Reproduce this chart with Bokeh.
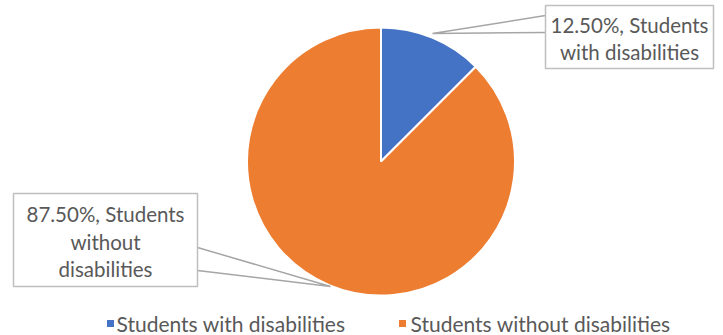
import math
from bokeh.plotting import figure
from bokeh.models import Range1d
from bokeh.core.properties import value
from bokeh.embed import file_html
from bokeh.resources import INLINE

categories = ["Students with disabilities", "Students without disabilities"]
shares = [12.5, 87.5]
colors = ["#4472C4", "#ED7D31"]
label_lines = [["12.50%, Students", "with disabilities"],
               ["87.50%, Students", "without", "disabilities"]]

W, H = 723, 335
FONT = "Lato"
TXT = "#595959"

def Y(y):
    return 335 - y

p = figure(width=W, height=H, x_range=Range1d(0, 723), y_range=Range1d(0, 335),
           x_axis_location=None, y_axis_location=None, toolbar_location=None,
           output_backend="svg", min_border=0, outline_line_color=None)
p.grid.visible = False

cx, cy, r = 380.5, Y(161), 134
total = sum(shares)
start = math.pi / 2
starts, ends = [], []
for s in shares:
    a = 2 * math.pi * s / total
    starts.append(start)
    ends.append(start - a)
    start -= a
p.wedge(x=[cx] * len(shares), y=[cy] * len(shares), radius=r,
        start_angle=starts, end_angle=ends, direction="clock",
        fill_color=colors, line_color="white", line_width=2)

# callout 1
p.line(x=[545, 432, 545], y=[Y(15), Y(33), Y(32)], line_color="#A6A6A6", line_width=1.5)
p.quad(left=[545], right=[713], top=[Y(5)], bottom=[Y(68)], fill_color="white",
       line_color="#BFBFBF", line_width=1.5)
for t, yy in zip(label_lines[0], [24, 51]):
    p.text(x=[629], y=[Y(yy)], text=[t], text_align="center", text_baseline="middle",
           text_font=value(FONT), text_font_size="20.5px", text_color=TXT)

# callout 2
p.line(x=[197, 330, 197], y=[Y(247), Y(286), Y(270)], line_color="#A6A6A6", line_width=1.5)
p.quad(left=[13], right=[197], top=[Y(193)], bottom=[Y(286)], fill_color="white",
       line_color="#BFBFBF", line_width=1.5)
for t, yy in zip(label_lines[1], [213, 241, 268]):
    p.text(x=[105], y=[Y(yy)], text=[t], text_align="center", text_baseline="middle",
           text_font=value(FONT), text_font_size="20.5px", text_color=TXT)

# legend
leg_sq_x = [110, 402]
leg_tx_x = [116, 410]
p.scatter(x=leg_sq_x, y=[Y(323)] * 2, marker="square", size=7, fill_color=colors, line_color=None)
p.text(x=leg_tx_x, y=[Y(323)] * 2, text=categories, text_align="left", text_baseline="middle",
       text_font=value(FONT), text_font_size="21px", text_color=TXT)

open("out.html", "w").write(file_html(p, INLINE))
